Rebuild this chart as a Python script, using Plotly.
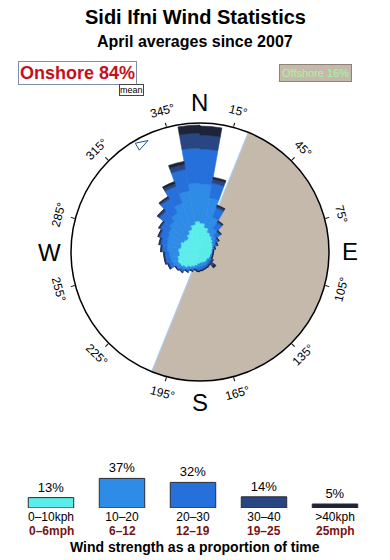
import numpy as np
import plotly.graph_objects as go

# ---------------- data ----------------
directions = [5, 15, 25, 35, 45, 55, 65, 75, 85, 95, 105, 115, 125, 135, 145, 155, 165, 175,
              185, 195, 205, 215, 225, 235, 245, 255, 265, 275, 285, 295, 305, 315, 325, 335, 345, 355]

# radial extent (scaled frequency) contributed by each speed band, per direction
band_0_10 = [29, 25, 21, 19, 17, 15, 14, 13, 12, 12, 11, 11, 11, 10, 11, 11, 11, 11,
             12, 14, 16, 18, 21, 23, 24, 23, 21, 22, 20, 21, 19, 18, 21, 24, 28, 31]
band_10_20 = [39, 30, 16, 8, 4, 3, 2, 1, 1, 0.5, 1, 1, 1, 2, 2, 3, 3, 4,
              4, 3, 3, 3, 3, 4, 5, 7, 10, 11, 14, 14, 18, 22, 24, 28, 34, 38]
band_20_30 = [35, 15, 10, 7, 5, 3, 2, 1, 0.5, 0.5, 1, 1, 2, 2, 2, 2, 3, 3,
              3, 1, 1, 2, 2, 1, 4, 5, 4, 5, 6, 8, 9, 13, 16, 18, 22, 35]
band_30_40 = [14, 4, 2, 1.5, 1.5, 1, 1, 0.5, 0.2, 0.2, 0.2, 0.5, 1, 5, 1, 1, 0.5, 0.5,
              0.5, 0.5, 0.5, 0.5, 1, 0.5, 1, 1, 1, 1, 1.5, 1.5, 1.5, 2, 2, 3, 5, 15]
band_40p = [9, 2, 1, 0.5, 0.5, 0.3, 0.2, 0.2, 0.1, 0.1, 0.1, 0.2, 0.5, 2, 0.3, 0.2, 0.2, 0.3,
            0.3, 0.2, 0.2, 0.2, 0.3, 0.3, 0.5, 0.5, 0.5, 0.5, 0.5, 0.5, 0.5, 1, 1, 2, 3, 8]

kph_labels = ["0–10kph", "10–20", "20–30", "30–40", ">40kph"]
mph_labels = ["0–6mph", "6–12", "12–19", "19–25", "25mph"]
band_share = [13, 37, 32, 14, 5]
band_colors = ["#5BEDEA", "#2F8CE6", "#2570DB", "#2A4682", "#1D2339"]

onshore_pct = 84
offshore_pct = 16
offshore_from = 22
offshore_to = 202
mean_direction = 335
tick_angles = [15, 45, 75, 105, 135, 165, 195, 225, 255, 285, 315, 345]
compass = [("N", 0), ("E", 90), ("S", 180), ("W", 270)]
radial_max = 129

# ---------------- layout geometry ----------------
W, H = 390, 560
cx, cy, R = 200, 252, 129
FONT = "Liberation Sans, Arial, Helvetica, sans-serif"

dom_x = [(cx - R) / W, (cx + R) / W]
dom_y = [1 - (cy + R) / H, 1 - (cy - R) / H]

fig = go.Figure()

# offshore sector (background polar)
off_center = (offshore_from + offshore_to) / 2
off_width = (offshore_to - offshore_from) % 360
fig.add_trace(go.Barpolar(
    r=[radial_max], theta=[off_center], width=[off_width],
    marker=dict(color="#C5B9AC", line=dict(color="#A9CDF0", width=1.2)),
    subplot="polar", hoverinfo="skip", showlegend=False))

# rose (stacked)
bands = [band_0_10, band_10_20, band_20_30, band_30_40, band_40p]
for vals, col in zip(bands, band_colors):
    fig.add_trace(go.Barpolar(
        r=vals, theta=directions, width=[10] * len(directions),
        marker=dict(color=col, line=dict(color=col, width=0.6)),
        subplot="polar2", showlegend=False))

# mean direction marker
fig.add_trace(go.Scatterpolar(
    r=[radial_max - 6], theta=[mean_direction], mode="markers",
    marker=dict(symbol="arrow", size=13, color="white", angle=60,
                line=dict(color="#1F4F8F", width=1)),
    subplot="polar2", showlegend=False, hoverinfo="skip"))

common_ang = dict(rotation=90, direction="clockwise")
fig.update_layout(
    polar=dict(
        domain=dict(x=dom_x, y=dom_y), bgcolor="white",
        angularaxis=dict(**common_ang, tickvals=tick_angles, showticklabels=False,
                         ticks="outside", ticklen=4, tickcolor="black",
                         showgrid=False, showline=True, linecolor="black", linewidth=1.5),
        radialaxis=dict(visible=False, range=[0, radial_max]),
    ),
    polar2=dict(
        domain=dict(x=dom_x, y=dom_y), bgcolor="rgba(0,0,0,0)", barmode="stack", bargap=0,
        angularaxis=dict(**common_ang, visible=False),
        radialaxis=dict(visible=False, range=[0, radial_max]),
    ),
)

# ---------------- speed legend (bar chart) ----------------
fig.add_trace(go.Bar(
    x=list(range(len(band_share))), y=band_share, width=0.64,
    marker=dict(color=band_colors, line=dict(color="#2B2B33", width=1)),
    text=[f"{v}%" for v in band_share], textposition="outside", cliponaxis=False,
    textfont=dict(size=13, color="black", family=FONT),
    xaxis="x", yaxis="y", showlegend=False, hoverinfo="skip"))

fig.update_layout(
    xaxis=dict(domain=[15.5 / W, 370.5 / W], range=[-0.5, 4.5], tickvals=list(range(5)),
               ticktext=kph_labels, tickfont=dict(size=12, color="black", family=FONT),
               showgrid=False, zeroline=False, showline=False, ticks="", fixedrange=True),
    yaxis=dict(domain=[1 - 508 / H, 1 - 468 / H], range=[0, 50], visible=False, fixedrange=True),
)

# ---------------- annotations ----------------
def note(text, px, py, **kw):
    d = dict(text=text, x=px / W, y=1 - py / H, xref="paper", yref="paper",
             showarrow=False, xanchor="center", yanchor="middle")
    d.update(kw)
    return d

ann = []
ann.append(note("Sidi Ifni Wind Statistics", 195, 17,
                font=dict(size=20, family=FONT, color="black", weight="bold")))
ann.append(note("April averages since 2007", 195, 42,
                font=dict(size=16, family=FONT, color="black", weight="bold")))
ann.append(note(f"Onshore {onshore_pct}%", 77.5, 73,
                font=dict(size=18, family=FONT, color="#C5101C", weight="bold"),
                bgcolor="white", bordercolor="#7D8EAA", borderwidth=1, borderpad=1))
ann.append(note("mean", 131, 90.5, font=dict(size=9, family=FONT, color="black"),
                bgcolor="white", bordercolor="#444444", borderwidth=1, borderpad=0))
ann.append(note(f"Offshore {offshore_pct}%", 315, 73.3,
                font=dict(size=11, family=FONT, color="#A8F59E"),
                bgcolor="#C5B9AC", bordercolor="#8C8276", borderwidth=1, borderpad=2))
ann.append(note("Wind strength as a proportion of time", 195, 547,
                font=dict(size=14, family=FONT, color="black", weight="bold")))

# mph line under each legend bar (placed on the bar axis categories)
for i, m in enumerate(mph_labels):
    ann.append(dict(text=m, x=i, xref="x", y=1 - 531 / H, yref="paper", showarrow=False,
                    xanchor="center", yanchor="middle",
                    font=dict(size=12, family=FONT, color="#7A1212", weight="bold")))

for a in tick_angles:
    rr = R + 17
    x = cx + rr * np.sin(np.radians(a))
    y = cy - rr * np.cos(np.radians(a))
    if a <= 90:
        ang = a
    elif a < 270:
        ang = a - 180
    else:
        ang = a - 360
    ann.append(note(f"{a}°", x, y, textangle=ang, font=dict(size=12, family=FONT, color="black")))

for lab, a in compass:
    rr = R + 21
    x = cx + rr * np.sin(np.radians(a))
    y = cy - rr * np.cos(np.radians(a))
    ann.append(note(lab, x, y, font=dict(size=24, family=FONT, color="black")))

fig.update_layout(
    width=W, height=H, margin=dict(l=0, r=0, t=0, b=0),
    paper_bgcolor="white", plot_bgcolor="white",
    annotations=ann, showlegend=False,
)

fig.write_html("out.html")
